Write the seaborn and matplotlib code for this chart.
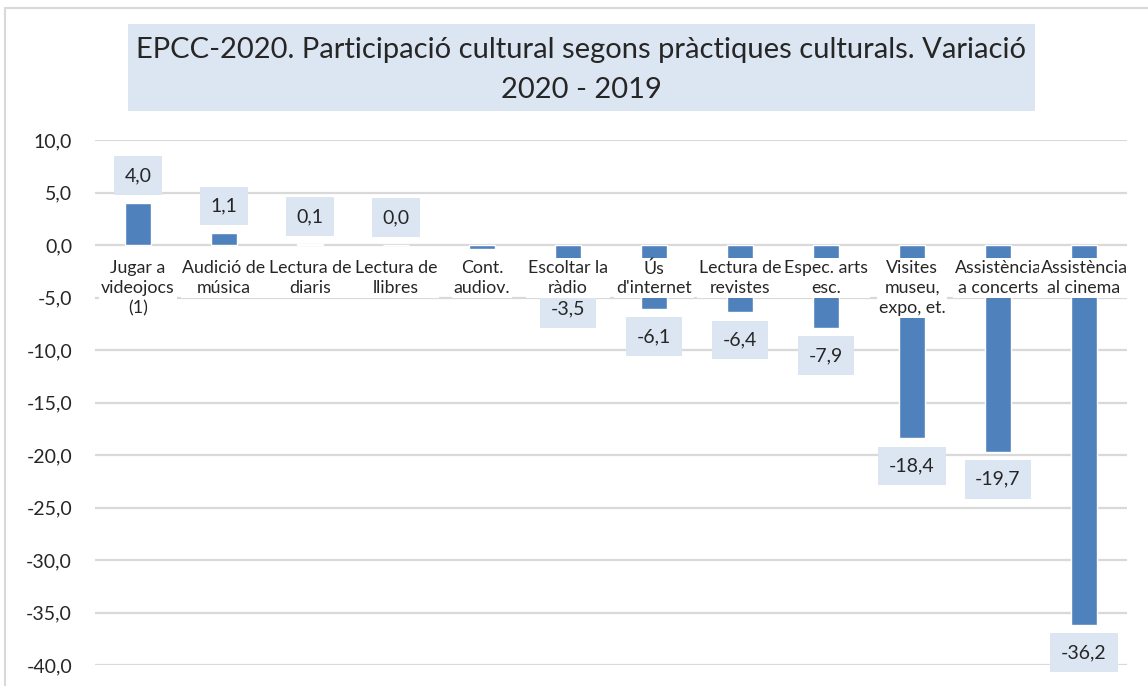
import matplotlib
matplotlib.use('Agg')
import matplotlib.pyplot as plt
from matplotlib.patches import Rectangle
import seaborn as sns

# Chart data
categories = [
    "Jugar a\nvideojocs\n(1)", "Audició de\nmúsica", "Lectura de\ndiaris",
    "Lectura de\nllibres", "Cont.\naudiov.", "Escoltar la\nràdio",
    "Ús\nd'internet", "Lectura de\nrevistes", "Espec. arts\nesc.",
    "Visites\nmuseu,\nexpo, et.", "Assistència\na concerts", "Assistència\nal cinema",
]
variation = [4.0, 1.1, 0.1, 0.0, -0.4, -3.5, -6.1, -6.4, -7.9, -18.4, -19.7, -36.2]
# the label of "Cont. audiov." is hidden in the original chart
show_label = [True, True, True, True, False, True, True, True, True, True, True, True]
y_ticks = [-40, -35, -30, -25, -20, -15, -10, -5, 0, 5, 10]
title_lines = ["EPCC-2020. Participació cultural segons pràctiques culturals. Variació",
               "2020 - 2019"]

BAR_COLOR = '#4F81BD'
BOX_COLOR = '#DCE6F2'
GRID_COLOR = '#D9D9D9'

sns.set_style('white')
plt.rcParams['font.family'] = ['Lato', 'DejaVu Sans']

W, H = 1148, 686
fig = plt.figure(figsize=(W / 100, H / 100), dpi=100)
ax = fig.add_axes([95 / W, 1 - 665 / H, (1127 - 95) / W, (665 - 140) / H])

px = 72 / 100  # one pixel in points

sns.barplot(x=list(range(len(categories))), y=variation, color=BAR_COLOR,
            saturation=1, width=0.31, ax=ax, zorder=2)

ax.set_xlim(-0.5, len(categories) - 0.5)
ax.set_ylim(min(y_ticks), max(y_ticks))
ax.set_xticks([])
ax.set_yticks(y_ticks)
ax.set_yticklabels([f"{t:.1f}".replace('.', ',') for t in y_ticks], fontsize=14)
ax.tick_params(axis='y', length=0, pad=23 * px)
ax.yaxis.grid(True, color=GRID_COLOR, lw=1.6)
ax.set_axisbelow(True)
ax.set_xlabel('')
ax.set_ylabel('')
for s in ax.spines.values():
    s.set_visible(False)

# data labels in light blue boxes
for i, v in enumerate(variation):
    if not show_label[i]:
        continue
    off = 19 * px if v >= 0 else -19 * px
    ax.annotate(f"{v:.1f}".replace('.', ','), (i, v), xytext=(0, off),
                textcoords='offset points', ha='center',
                va='bottom' if v >= 0 else 'top', fontsize=14,
                bbox=dict(boxstyle='square,pad=0.55', fc=BOX_COLOR, ec='none'),
                zorder=4, annotation_clip=False)

# category labels sit just under the zero line, on white
for i, c in enumerate(categories):
    ax.annotate(c, (i, 0), xytext=(0, -15 * px), textcoords='offset points',
                ha='center', va='top', multialignment='center', fontsize=12.8,
                linespacing=1.3,
                bbox=dict(boxstyle='square,pad=0.1', fc='white', ec='none'),
                zorder=6)

# title box
fig.patches.append(Rectangle((128 / W, 1 - 111 / H), (1035 - 128) / W, 87 / H,
                             transform=fig.transFigure, fc=BOX_COLOR, ec='none'))
fig.text(581 / W, 1 - 50 / H, title_lines[0], ha='center', va='center', fontsize=21)
fig.text(581 / W, 1 - 90 / H, title_lines[1], ha='center', va='center', fontsize=21)

# chart outer border
fig.patches.append(Rectangle((5 / W, -0.1), 1.2, 1.1 - 8 / H, transform=fig.transFigure,
                             fc='none', ec=GRID_COLOR, lw=1.5))

fig.savefig('out.png', dpi=100)
